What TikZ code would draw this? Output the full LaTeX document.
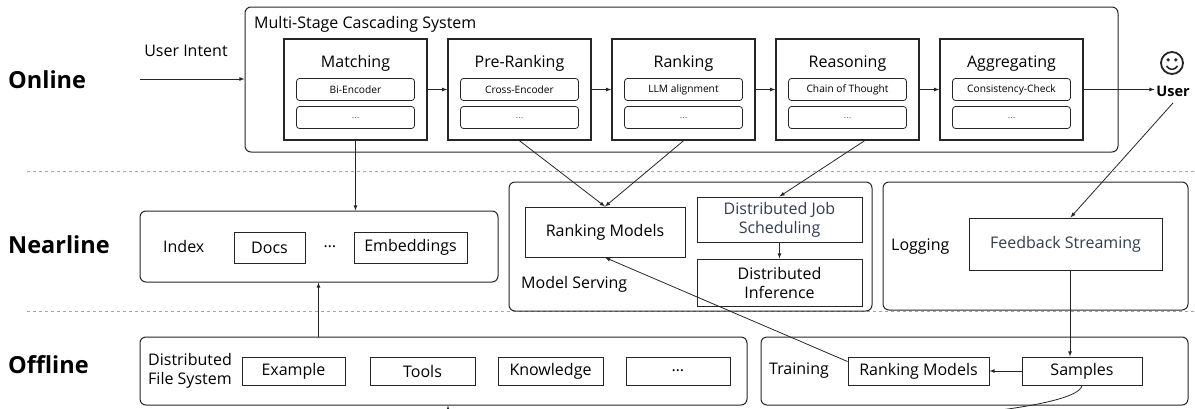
\documentclass[tikz,border=0pt]{standalone}
\usepackage{fontspec}
\setmainfont{Open Sans}
\usepackage{tikz}
\usetikzlibrary{calc}
\definecolor{edge}{HTML}{262626}
\definecolor{slate}{HTML}{333D4C}

\begin{document}
\begin{tikzpicture}[x=1pt,y=-1pt,
		outerbox/.style={draw=edge,line width=1pt,rounded corners=6pt,inner sep=0pt},
		stagebox/.style={draw=edge,line width=1.5pt,minimum width=143pt,minimum height=101pt,inner sep=0pt},
		subbox/.style={draw=edge,line width=0.8pt,rounded corners=3pt,minimum width=118pt,minimum height=22pt,inner sep=0pt,font=\fontsize{10.2}{12}\selectfont},
		plainbox/.style={draw=edge,line width=1pt,inner sep=0pt,align=center,font=\fontsize{16}{19}\selectfont},
		lbl/.style={inner sep=0pt,font=\fontsize{16}{19}\selectfont},
		layer/.style={inner sep=0pt,anchor=west,font=\fontsize{23.5}{28}\selectfont\bfseries},
		arr/.style={-latex,line width=0.8pt,draw=edge},
		sep/.style={dashed,gray!70,line width=0.6pt}]
		\useasboundingbox (0,0) rectangle (1195,408);
		\clip (0,0) rectangle (1195,408);
		% layer separators
		\draw[sep] (27,171) -- (1195,171);
		\draw[sep] (27,311) -- (1195,311);
		\node[layer] (online) at (8,80) {Online};
		\node[layer] (nearline) at (8,245) {Nearline};
		\node[layer] (offline) at (8,365) {Offline};
		% online
		\node[outerbox,minimum width=873pt,minimum height=145pt] (cascade) at (681.5,79.5) {};
		\node[lbl,anchor=west] (cascadetitle) at (254,24) {Multi-Stage Cascading System};
		\node[lbl] (intentlbl) at (186,51) {User Intent};
		\coordinate (intent) at (140,79);
		\node[stagebox] (match) at (355.5,89.5) {};
		\node[lbl,anchor=base] at (355.5,67.5) {Matching};
		\node[subbox] (match1) at (355.5,89.5) {Bi-Encoder};
		\node[subbox,text=gray] (match2) at (355.5,117.5) {…};
		\node[stagebox] (pre) at (519.5,89.5) {};
		\node[lbl,anchor=base] at (519.5,67.5) {Pre-Ranking};
		\node[subbox] (pre1) at (519.5,89.5) {Cross-Encoder};
		\node[subbox,text=gray] (pre2) at (519.5,117.5) {…};
		\node[stagebox] (rank) at (683.5,89.5) {};
		\node[lbl,anchor=base] at (683.5,67.5) {Ranking};
		\node[subbox] (rank1) at (683.5,89.5) {LLM alignment};
		\node[subbox,text=gray] (rank2) at (683.5,117.5) {…};
		\node[stagebox] (reason) at (847.5,89.5) {};
		\node[lbl,anchor=base] at (847.5,67.5) {Reasoning};
		\node[subbox] (reason1) at (847.5,89.5) {Chain of Thought};
		\node[subbox,text=gray] (reason2) at (847.5,117.5) {…};
		\node[stagebox] (aggr) at (1011.5,89.5) {};
		\node[lbl,anchor=base] at (1011.5,67.5) {Aggregating};
		\node[subbox] (aggr1) at (1011.5,89.5) {Consistency-Check};
		\node[subbox,text=gray] (aggr2) at (1011.5,117.5) {…};
		\node[inner sep=1.5pt,font=\fontsize{14.5}{16}\selectfont\bfseries] (user) at (1173,91) {User};
		\node[draw=edge,circle,line width=1.8pt,minimum size=22pt,inner sep=0pt] (face) at (1172,63) {};
		\fill[edge] ($(face.center)+(-3.8,-3.2)$) circle (1.8);
		\fill[edge] ($(face.center)+(3.8,-3.2)$) circle (1.8);
		\draw[edge,line width=1.5pt] ($(face.center)+(-5.5,3)$) .. controls ($(face.center)+(-2.5,7.5)$) and ($(face.center)+(2.5,7.5)$) .. ($(face.center)+(5.5,3)$);
		% nearline
		\node[outerbox,minimum width=358pt,minimum height=71pt] (index) at (319,246.5) {};
		\node[lbl,anchor=west] (indexlbl) at (163,246) {Index};
		\node[plainbox,minimum width=71pt,minimum height=31pt] (docs) at (269.5,247.5) {Docs};
		\node[lbl] (indexmore) at (330,247) {…};
		\node[plainbox,minimum width=113pt,minimum height=31pt] (embed) at (410.5,247.5) {Embeddings};
		\node[outerbox,minimum width=363pt,minimum height=129pt] (serving) at (690.5,246.5) {};
		\node[plainbox,minimum width=160pt,minimum height=50pt] (rmserve) at (605,232) {Ranking Models};
		\node[lbl,anchor=west] (servinglbl) at (521,284) {Model Serving};
		\node[plainbox,minimum width=165pt,minimum height=45pt,text=slate] (djs) at (779.5,219.5) {Distributed Job\\Scheduling};
		\node[plainbox,minimum width=165pt,minimum height=47pt] (di) at (779.5,282.5) {Distributed\\Inference};
		\node[outerbox,minimum width=305pt,minimum height=128pt] (logging) at (1035.5,246) {};
		\node[lbl,anchor=west] (logginglbl) at (891,247) {Logging};
		\node[plainbox,minimum width=193pt,minimum height=52pt,text=slate] (fs) at (1065.5,244) {Feedback Streaming};
		% offline
		\node[outerbox,minimum width=607pt,minimum height=68pt] (dfs) at (443.5,371) {};
		\node[lbl,anchor=west,align=left,font=\fontsize{16}{18.5}\selectfont] (dfslbl) at (148,371) {Distributed\\File System};
		\node[plainbox,minimum width=103pt,minimum height=28pt] (example) at (293.5,371) {Example};
		\node[plainbox,minimum width=105pt,minimum height=28pt] (tools) at (422.5,371) {Tools};
		\node[plainbox,minimum width=105pt,minimum height=28pt] (knowledge) at (550.5,371) {Knowledge};
		\node[plainbox,minimum width=104pt,minimum height=28pt] (dfsmore) at (678,371) {…};
		\node[outerbox,minimum width=427pt,minimum height=68pt] (training) at (974.5,371) {};
		\node[lbl,anchor=west] (traininglbl) at (769,371) {Training};
		\node[plainbox,minimum width=141pt,minimum height=28pt] (rmtrain) at (918.5,371) {Ranking Models};
		\node[plainbox,minimum width=120pt,minimum height=28pt] (samples) at (1082,371) {Samples};
		% connectors
		\draw[arr] (intent) -- (intent -| cascade.west);
		\draw[arr] (match.east) -- (pre.west);
		\draw[arr] (pre.east) -- (rank.west);
		\draw[arr] (rank.east) -- (reason.west);
		\draw[arr] (reason.east) -- (aggr.west);
		\draw[arr] (aggr.east) -- (aggr.east -| user.west);
		\draw[arr] (match.south) -- (match.south |- index.north);
		\draw[arr] (pre.south) -- (rmserve.north);
		\draw[arr] (rank.south) -- (rmserve.north);
		\draw[arr] ([xshift=17pt]reason.south) -- (djs.north);
		\draw[arr] (djs.south) -- (di.north);
		\draw[arr] ([yshift=-5pt]user.south) -- ([xshift=5pt]fs.north);
		\draw[arr] ([xshift=4.5pt]fs.south) -- ([xshift=4.5pt]fs.south |- samples.north);
		\draw[arr] (samples.west) -- (rmtrain.east);
		\draw[arr] ([yshift=-5pt]rmtrain.north west) -- (rmserve.south);
		\draw[arr] ([xshift=179pt]dfs.north west) -- ([xshift=179pt]index.south west);
		\draw[arr] (samples.south) .. controls +(-8,45) and +(0,35) .. ([xshift=4.5pt]dfs.south);
	\end{tikzpicture}
\end{document}
